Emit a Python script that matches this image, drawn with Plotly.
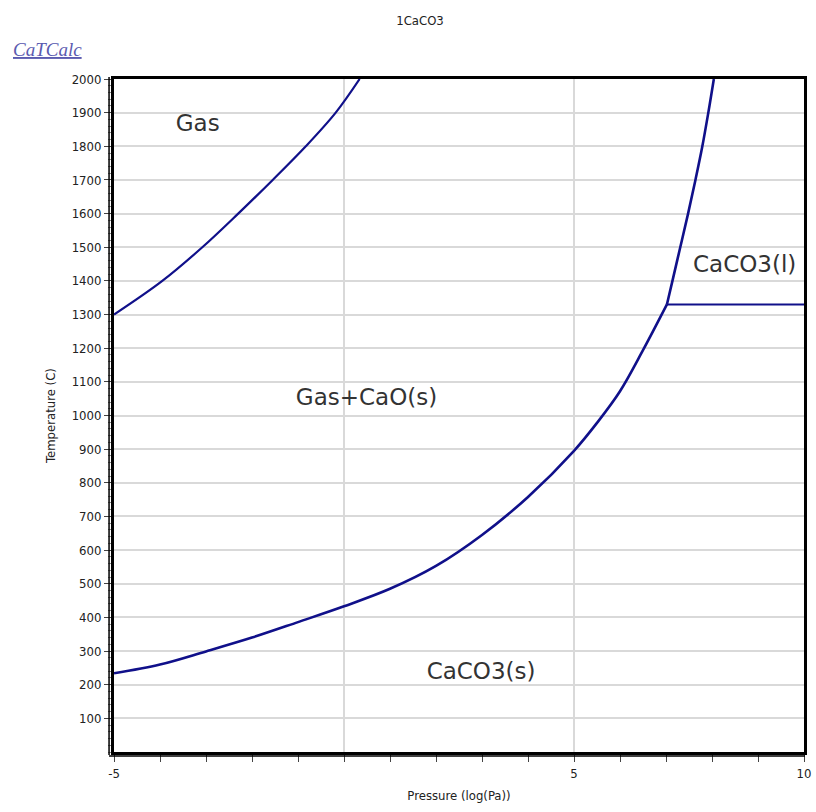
import plotly.graph_objects as go

# Gas / Gas+CaO(s) boundary
gas_logp = [-5.0, -3.95, -3.08, -2.30, -1.55, -0.83, -0.18, 0.34]
gas_t = [1300, 1400, 1500, 1600, 1700, 1800, 1900, 2000]

# CaCO3(s) decomposition boundary (below the melting point)
dec_logp = [-5.0, -4.0, -3.0, -2.0, -1.0, 0.0, 1.0, 2.0, 3.0, 4.0, 5.0, 5.5, 6.0, 6.5, 7.02]
dec_t = [234, 260, 299, 340, 386, 433, 485, 553, 645, 758, 895, 978, 1072, 1194, 1330]

# CaCO3(l) / Gas+CaO(s) boundary (above the melting point)
up_logp = [7.02, 7.14, 7.31, 7.48, 7.64, 7.79, 7.92, 8.04]
up_t = [1330, 1400, 1500, 1600, 1700, 1800, 1900, 2000]

# CaCO3(l) horizontal boundary
liq_logp = [7.02, 10.0]
liq_t = [1330, 1330]

labels = ["Gas", "Gas+CaO(s)", "CaCO3(s)", "CaCO3(l)"]
label_logp = [-3.18, 0.49, 2.98, 8.71]
label_t = [1864, 1047, 233, 1445]

line_color = "#10108a"

fig = go.Figure()
fig.add_trace(go.Scatter(x=gas_logp, y=gas_t, mode="lines",
                         line=dict(color=line_color, width=2.2, shape="spline", smoothing=1.0),
                         showlegend=False))
fig.add_trace(go.Scatter(x=dec_logp, y=dec_t, mode="lines",
                         line=dict(color=line_color, width=2.6, shape="spline", smoothing=1.0),
                         showlegend=False))
fig.add_trace(go.Scatter(x=up_logp, y=up_t, mode="lines",
                         line=dict(color=line_color, width=2.6, shape="spline", smoothing=1.0),
                         showlegend=False))
fig.add_trace(go.Scatter(x=liq_logp, y=liq_t, mode="lines",
                         line=dict(color=line_color, width=2),
                         showlegend=False))
fig.add_trace(go.Scatter(x=label_logp, y=label_t, mode="text", text=labels,
                         textfont=dict(family="DejaVu Sans", size=23, color="#333333"),
                         showlegend=False, hoverinfo="skip"))

W, H = 816, 812
ml, mr, mt, mb = 114, 5, 79, 60
pw, ph = W - ml - mr, H - mt - mb

tfont = "DejaVu Sans Condensed, DejaVu Sans"

fig.update_layout(
    width=W, height=H,
    margin=dict(l=ml, r=mr, t=mt, b=mb),
    paper_bgcolor="white", plot_bgcolor="white",
    font=dict(family="DejaVu Sans", size=12, color="#222222"),
    title=dict(text="1CaCO3", x=420 / W, xanchor="center", y=1 - 20 / H, yanchor="middle",
               font=dict(family=tfont, size=13, color="#222222")),
    xaxis=dict(range=[-5, 10], tickvals=[-5, 0, 5, 10], ticktext=["-5", "", "5", "10"],
               showgrid=True, gridcolor="#d9d9d9", gridwidth=1.5,
               showline=True, mirror=True, linecolor="black", linewidth=3,
               ticks="outside", ticklen=7, tickcolor="#444444", tickwidth=1,
               minor=dict(dtick=1, ticks="outside", ticklen=7, tickcolor="#444444", showgrid=False),
               zeroline=False,
               tickfont=dict(family=tfont, size=13, color="#222222"),
               title=dict(text="Pressure (log(Pa))", standoff=12,
                          font=dict(family=tfont, size=13, color="#222222"))),
    yaxis=dict(range=[0, 2000], tickvals=list(range(100, 2001, 100)),
               showgrid=True, gridcolor="#d9d9d9", gridwidth=1.5,
               showline=True, mirror=True, linecolor="black", linewidth=3,
               ticks="outside", ticklen=7, tickcolor="#444444", tickwidth=1,
               minor=dict(dtick=20, ticks="outside", ticklen=3, tickcolor="#888888", showgrid=False),
               zeroline=False,
               tickfont=dict(family=tfont, size=13, color="#222222"),
               title=dict(text="Temperature (C)", standoff=14,
                          font=dict(family=tfont, size=13, color="#222222"))),
    shapes=[
        dict(type="line", xref="paper", yref="paper",
             x0=-5 / pw, x1=-5 / pw, y0=-3 / ph, y1=1 + 2 / ph,
             line=dict(color="black", width=1.5)),
        dict(type="line", xref="paper", yref="paper",
             x0=-5 / pw, x1=1 + 1 / pw, y0=-4 / ph, y1=-4 / ph,
             line=dict(color="black", width=1.5)),
    ],
    annotations=[
        dict(text="<i><u>CaTCalc</u></i>", xref="paper", yref="paper",
             x=(10 - ml) / pw, y=1 + (mt - 50) / ph, xanchor="left", yanchor="middle",
             showarrow=False,
             font=dict(family="Liberation Serif", size=19, color="#5b5bb0")),
    ],
)

fig.write_html("out.html")
